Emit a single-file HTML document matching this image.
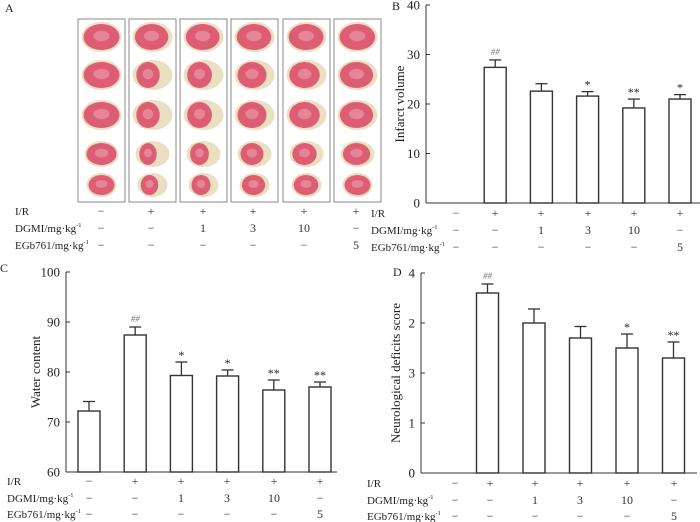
<!DOCTYPE html>
<html><head><meta charset="utf-8"><style>
html,body{margin:0;padding:0;background:#fff;}
svg{display:block;}
svg text{font-family:"Liberation Serif","Times New Roman",serif;}
</style></head><body>
<svg id="fig" width="700" height="522" viewBox="0 0 700 522"></svg>
<script>
// ---- data ----
const groups = ["Sham","I/R","DGMI 1","DGMI 3","DGMI 10","EGb761 5"];
const irRow = ["−","+","+","+","+","+"];
const dgmiRow = ["−","−","1","3","10","−"];
const egbRow = ["−","−","−","−","−","5"];
const infarctValues = [null,27.4,22.6,21.6,19.2,21.0];
const infarctErrors = [null,1.5,1.5,0.9,1.8,0.9];
const infarctSig = ["","##","","*","**","*"];
const infarctTicks = [0,10,20,30,40];
const waterValues = [72.2,87.4,79.3,79.2,76.4,77.0];
const waterErrors = [1.9,1.6,2.7,1.2,2.0,1.0];
const waterSig = ["","##","*","*","**","**"];
const waterTicks = [60,70,80,90,100];
const neuroValues = [null,3.6,3.0,2.7,2.5,2.3];
const neuroErrors = [null,0.18,0.28,0.23,0.28,0.32];
const neuroSig = ["","##","","","*","**"];
const neuroTicks = [0,1,2,3,4];
const neuroTickLabels = ["0","1","3","2","4"];

const NS="http://www.w3.org/2000/svg";
const svg=document.getElementById('fig');
function mk(tag,attrs,parent,text){const e=document.createElementNS(NS,tag);for(const k in attrs)e.setAttribute(k,attrs[k]);if(text!==undefined)e.textContent=text;(parent||svg).appendChild(e);return e;}

function chart(cfg){
  const g=mk('g',{});
  
  
  const y=v=>cfg.y0-(v-cfg.min)/(cfg.max-cfg.min)*(cfg.y0-cfg.yTop);
  const x=i=>cfg.cx0+i*cfg.step;
  const ax=mk('line',{x1:cfg.ax,y1:cfg.yTop,x2:cfg.ax,y2:cfg.y0,stroke:'#333','stroke-width':1},g);
  
  const xa=mk('line',{x1:cfg.ax,y1:cfg.y0,x2:cfg.xEnd,y2:cfg.y0,stroke:'#333','stroke-width':1},g);
  
  cfg.ticks.forEach((t,i)=>{
    mk('line',{x1:cfg.ax,y1:y(t),x2:cfg.ax+4,y2:y(t),stroke:'#333'},g);
    const tl=mk('text',{x:cfg.ax-6,y:y(t)+4.5,'text-anchor':'end','font-size':13,fill:'#222'},g,cfg.tickLabels?cfg.tickLabels[i]:String(t));
    
  });
  cfg.values.forEach((v,i)=>{
    if(v===null)return;
    const cx=x(i),w=22,top=y(v),et=y(v+cfg.errors[i]);
    mk('line',{x1:cx,y1:top,x2:cx,y2:et,stroke:'#333','stroke-width':1.3},g);
    mk('line',{x1:cx-6,y1:et,x2:cx+6,y2:et,stroke:'#333','stroke-width':1.3},g);
    const b=mk('rect',{x:cx-w/2,y:top,width:w,height:cfg.y0-top,fill:'#fff',stroke:'#333','stroke-width':1.4},g);
    
    if(cfg.sig[i]){const s=mk('text',{x:cx,y:et-(cfg.sig[i]==='##'?5:3),'text-anchor':'middle','font-size':cfg.sig[i]==='##'?9:12,fill:cfg.sig[i]==='##'?'#777':'#222','font-style':cfg.sig[i]==='##'?'italic':'normal'},g,cfg.sig[i]);
      }
  });
  const yt=mk('text',{transform:`translate(${cfg.titleX},${(cfg.yTop+cfg.y0)/2}) rotate(-90)`,'text-anchor':'middle','font-size':13,fill:'#222'},g,cfg.title);
  
  const pl=mk('text',{x:cfg.panelX,y:cfg.panelY,'font-size':12,fill:'#222'},g,cfg.panel);
  
}
function rows(name,lx,ys,cols){
  const g=mk('g',{});
  const labs=[["I/R",""],["DGMI/mg·kg","-1"],["EGb761/mg·kg","-1"]];
  const data=[irRow,dgmiRow,egbRow];
  labs.forEach((l,r)=>{
    const t=mk('text',{x:lx,y:ys[r]+4,'font-size':11,fill:'#222'},g,l[0]);
    if(l[1]){mk('tspan',{dy:-5,'font-size':6.5},t,l[1]);}
    
    data[r].forEach((s,i)=>{const c=mk('text',{x:cols[i],y:ys[r]+4,'text-anchor':'middle','font-size':12,fill:'#333'},g,s);
      });
  });
}

// Panel A brains
(function(){
  const g=mk('g',{});
  const pl=mk('text',{x:5,y:12,'font-size':12,fill:'#222'},g,'A');
  
  const bx=[78,129,180,231,283,334];
  const rowY=[37,75,115,154,185],rw=[20,20,20,17,15],rh=[15,15,15,13,12];
  const inf=[0,0.9,0.8,0.5,0.4,0.2];
  bx.forEach((x0,c)=>{
    const b=mk('rect',{x:x0,y:19,width:47,height:183,fill:'#fff',stroke:'#888','stroke-width':1},g);
    
    const cx=x0+23.5;
    rowY.forEach((cy,r)=>{
      mk('ellipse',{cx:cx,cy:cy,rx:rw[r],ry:rh[r],fill:'#eadfc0'},g);
      const f=Math.max(0,inf[c]-(r===4?0.3:0))*(r===0?0.2:1);
      mk('ellipse',{cx:cx-(f*5),cy:cy,rx:rw[r]-2-f*7,ry:rh[r]-2,fill:'#dd5e74'},g);
      mk('ellipse',{cx:cx-(f*5),cy:cy-1,rx:(rw[r]-2-f*7)*0.45,ry:(rh[r]-2)*0.4,fill:'#e58596'},g);
    });
  });
})();
rows('panel-a-treatment-rows',15,[211,228,245],[101,151,203,253,304,356]);

chart({name:'infarct-volume-chart',panel:'B',panelX:392,panelY:10,ax:426,yTop:5,y0:203,xEnd:700,min:0,max:40,
  ticks:infarctTicks,values:infarctValues,errors:infarctErrors,sig:infarctSig,cx0:449,step:46.2,title:'Infarct volume',titleX:404});
rows('panel-b-treatment-rows',371,[213,230,247],[456,495,541,588,634,680]);

chart({name:'water-content-chart',panel:'C',panelX:0,panelY:272,ax:66,yTop:272,y0:472,xEnd:337,min:60,max:100,
  ticks:waterTicks,values:waterValues,errors:waterErrors,sig:waterSig,cx0:89,step:46.2,title:'Water content',titleX:40});
rows('panel-c-treatment-rows',7,[481,498,514],[89,135,181,227,274,320]);

chart({name:'neurological-score-chart',panel:'D',panelX:393,panelY:276,ax:421,yTop:273,y0:473,xEnd:697,min:0,max:4,
  ticks:neuroTicks,tickLabels:neuroTickLabels,values:neuroValues,errors:neuroErrors,sig:neuroSig,cx0:441,step:46.5,title:'Neurological deficits score',titleX:400});
rows('panel-d-treatment-rows',367,[483,500,516],[455,490,535,580,627,674]);
</script>
</body></html>
